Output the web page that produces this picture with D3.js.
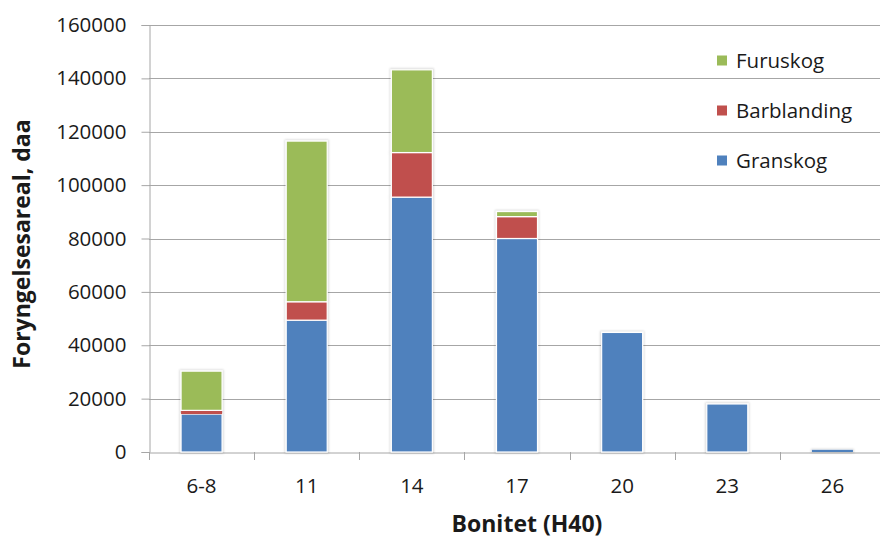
<!DOCTYPE html>
<html>
<head>
<meta charset="utf-8">
<script src="https://cdn.jsdelivr.net/npm/d3@7"></script>
<style>
  html, body { margin: 0; padding: 0; background: #fff; }
  svg { display: block; }
  text { font-family: "Open Sans", "Liberation Sans", sans-serif; fill: #1a1a1a; }
</style>
</head>
<body>
<svg id="chart" width="880" height="538"></svg>
<script>
// Bonitet classes (H40)
const categories = ["6-8", "11", "14", "17", "20", "23", "26"];
// Regeneration area (daa) per forest type
const granskog    = [14200, 49400, 95500, 80000, 44800, 18000, 800];
const barblanding = [1400, 6900, 16700, 8200, 0, 0, 0];
const furuskog    = [14700, 60200, 31000, 1900, 0, 0, 0];
const seriesNames = ["Granskog", "Barblanding", "Furuskog"];
const seriesColors = ["#4F81BD", "#C0504D", "#9BBB59"];
const yTicks = [0, 20000, 40000, 60000, 80000, 100000, 120000, 140000, 160000];

const rows = categories.map((c, i) => ({
  cat: c, Granskog: granskog[i], Barblanding: barblanding[i], Furuskog: furuskog[i]
}));
const stacked = d3.stack().keys(seriesNames)(rows);

const svg = d3.select("#chart");
const m = { left: 149, top: 25, right: 885, bottom: 452 };
const labelSize = 20.5, titleSize = 23;

const x = d3.scaleBand().domain(categories).range([m.left, m.right])
  .paddingInner(0.61).paddingOuter(0.305);
const y = d3.scaleLinear().domain([0, 160000]).range([m.bottom, m.top]);

// soft halo around the bars
const defs = svg.append("defs");
const f = defs.append("filter").attr("id", "glow")
  .attr("x", "-20%").attr("y", "-20%").attr("width", "140%").attr("height", "140%");
f.append("feMorphology").attr("in", "SourceAlpha").attr("operator", "dilate").attr("radius", 1).attr("result", "d");
f.append("feGaussianBlur").attr("in", "d").attr("stdDeviation", 1).attr("result", "b");
f.append("feComponentTransfer").attr("in", "b").attr("result", "s")
  .append("feFuncA").attr("type", "linear").attr("slope", 0.15);
const mg = f.append("feMerge");
mg.append("feMergeNode").attr("in", "s");
mg.append("feMergeNode").attr("in", "SourceGraphic");

// gridlines
svg.append("g").selectAll("line").data(yTicks.slice(1)).join("line")
  .attr("x1", m.left).attr("x2", m.right)
  .attr("y1", d => Math.round(y(d)) + 0.5).attr("y2", d => Math.round(y(d)) + 0.5)
  .attr("stroke", "#a6a6a6").attr("stroke-width", 1);

// y axis
const yAxis = d3.axisLeft(y).tickValues(yTicks).tickSize(8).tickPadding(15)
  .tickFormat(d3.format("d"));
const yg = svg.append("g").attr("transform", `translate(${m.left + 0.5},0)`).call(yAxis);
yg.select(".domain").attr("stroke", "#a6a6a6");
yg.selectAll(".tick line").attr("stroke", "#a6a6a6");
yg.selectAll(".tick text").attr("font-size", labelSize).attr("fill", "#1a1a1a")
  .attr("font-family", "'Open Sans', sans-serif");

// x axis
const xAxis = d3.axisBottom(x).tickSize(0).tickPadding(26);
const xg = svg.append("g").attr("transform", `translate(0,${m.bottom + 0.5})`).call(xAxis);
xg.select(".domain").attr("stroke", "#a6a6a6");
xg.selectAll(".tick text").attr("font-size", labelSize).attr("fill", "#1a1a1a")
  .attr("font-family", "'Open Sans', sans-serif");
// category boundary ticks
const step = x.step();
svg.append("g").selectAll("line").data(d3.range(categories.length + 1)).join("line")
  .attr("x1", i => Math.round(m.left + i * step) + 0.5)
  .attr("x2", i => Math.round(m.left + i * step) + 0.5)
  .attr("y1", m.bottom).attr("y2", m.bottom + 8)
  .attr("stroke", "#a6a6a6");

// stacked bars
const layers = svg.append("g").attr("filter", "url(#glow)");
stacked.forEach((s, si) => {
  layers.append("g").selectAll("rect").data(s.filter(d => d[1] - d[0] > 0)).join("rect")
    .attr("x", d => x(d.data.cat))
    .attr("width", x.bandwidth())
    .attr("y", d => y(d[1]))
    .attr("height", d => y(d[0]) - y(d[1]))
    .attr("fill", seriesColors[si])
    .attr("stroke", d => (y(d[0]) - y(d[1]) > 4 ? "#ffffff" : "none"))
    .attr("stroke-width", 1.2);
});

// legend (top series first)
const legendItems = seriesNames.map((n, i) => ({ name: n, color: seriesColors[i] })).reverse();
const lg = svg.append("g");
legendItems.forEach((d, i) => {
  const cy = 60.5 + i * 50;
  lg.append("rect").attr("x", 717).attr("y", cy - 5).attr("width", 10).attr("height", 10).attr("fill", d.color);
  lg.append("text").attr("x", 736).attr("y", cy).attr("dy", "0.35em")
    .attr("font-size", labelSize).text(d.name);
});

// axis titles
svg.append("text").attr("x", 527).attr("y", 532).attr("text-anchor", "middle")
  .attr("font-size", titleSize).attr("font-weight", "bold").text("Bonitet (H40)");
svg.append("text").attr("transform", "translate(30,244) rotate(-90)")
  .attr("text-anchor", "middle").attr("font-size", titleSize).attr("font-weight", "bold")
  .text("Foryngelsesareal, daa");
</script>
</body>
</html>
